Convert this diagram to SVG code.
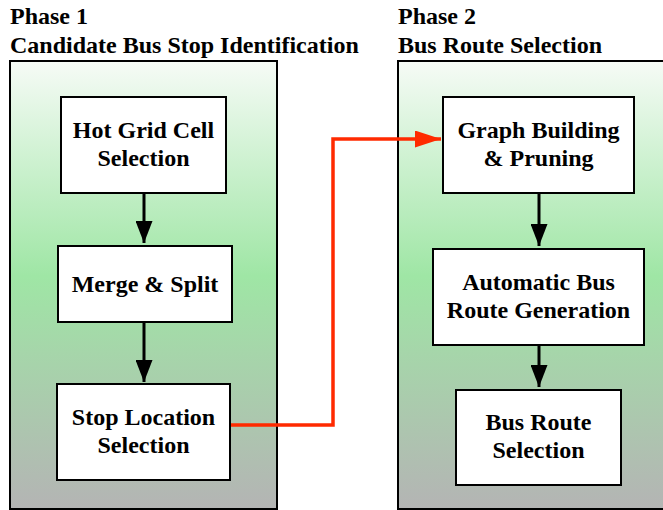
<svg xmlns="http://www.w3.org/2000/svg" width="663" height="510" viewBox="0 0 663 510">
<defs>
<linearGradient id="pg" x1="0" y1="0" x2="0" y2="1">
<stop offset="0" stop-color="#f6fbf6"/>
<stop offset="0.48" stop-color="#9fe6a5"/>
<stop offset="1" stop-color="#b4b4b4"/>
</linearGradient>
<marker id="ab" markerWidth="22" markerHeight="17" refX="22" refY="8.5" orient="auto" markerUnits="userSpaceOnUse" viewBox="0 0 22 17">
<path d="M0,0 L22,8.5 L0,17 Z" fill="#000"/>
</marker>
<marker id="ar" markerWidth="26" markerHeight="17" refX="26" refY="8.5" orient="auto" markerUnits="userSpaceOnUse" viewBox="0 0 26 17">
<path d="M0,0 L26,8.5 L0,17 Z" fill="#ff2a00"/>
</marker>
</defs>
<style>
text{font-family:"Liberation Serif","Times New Roman",serif;font-weight:bold;font-size:24px;fill:#000}
.n{text-anchor:middle}
.panel{fill:url(#pg);stroke:#000;stroke-width:2}
.box{fill:#fff;stroke:#000;stroke-width:2}
.c{fill:none;stroke:#000;stroke-width:3}
.r{fill:none;stroke:#ff2a00;stroke-width:3.5}
</style>
<g id="phase1">
<text x="10" y="24">Phase 1</text>
<text x="10" y="53">Candidate Bus Stop Identification</text>
<rect class="panel" x="10" y="61" width="267" height="448"/>
</g>
<g id="phase2">
<text x="398" y="24">Phase 2</text>
<text x="398" y="53">Bus Route Selection</text>
<rect class="panel" x="398" y="61" width="275" height="448"/>
</g>
<g id="hot">
<rect class="box" x="61" y="97" width="165" height="96"/>
<text class="n" x="143.5" y="138">Hot Grid Cell</text>
<text class="n" x="143.5" y="166">Selection</text>
</g>
<g id="merge">
<rect class="box" x="58" y="246" width="174" height="76"/>
<text class="n" x="145" y="292">Merge &amp; Split</text>
</g>
<g id="stop">
<rect class="box" x="57" y="384" width="173" height="96"/>
<text class="n" x="143.5" y="425">Stop Location</text>
<text class="n" x="143.5" y="453">Selection</text>
</g>
<g id="graph">
<rect class="box" x="443" y="97" width="191" height="96"/>
<text class="n" x="538.5" y="138">Graph Building</text>
<text class="n" x="538.5" y="166">&amp; Pruning</text>
</g>
<g id="auto">
<rect class="box" x="433" y="249" width="211" height="96"/>
<text class="n" x="538.5" y="290">Automatic Bus</text>
<text class="n" x="538.5" y="318">Route Generation</text>
</g>
<g id="select">
<rect class="box" x="456" y="390" width="165" height="95"/>
<text class="n" x="538.5" y="430">Bus Route</text>
<text class="n" x="538.5" y="458">Selection</text>
</g>
<g id="connectors">
<line class="c" x1="144" y1="194" x2="144" y2="243" marker-end="url(#ab)"/>
<line class="c" x1="144" y1="323" x2="144" y2="382" marker-end="url(#ab)"/>
<line class="c" x1="539" y1="194" x2="539" y2="246" marker-end="url(#ab)"/>
<line class="c" x1="539" y1="346" x2="539" y2="387" marker-end="url(#ab)"/>
<path class="r" d="M231,425 H333 V139 H441" marker-end="url(#ar)"/>
</g>
</svg>
